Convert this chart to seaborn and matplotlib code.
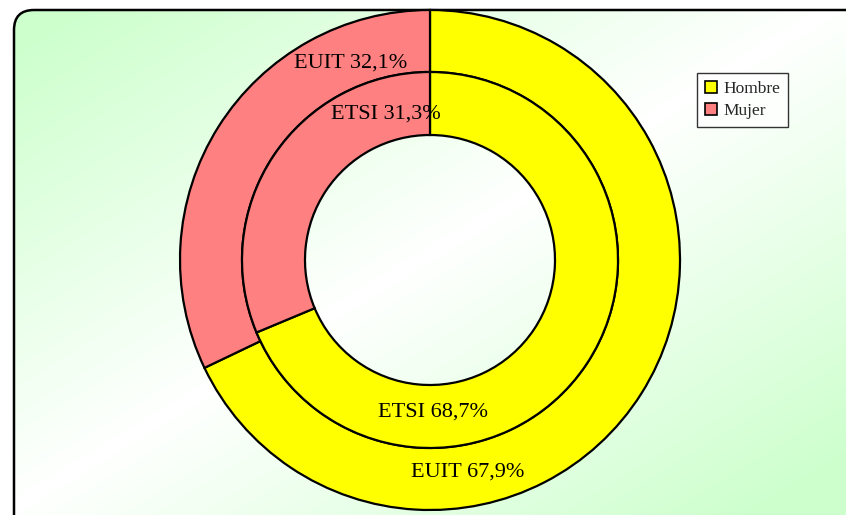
import numpy as np
import matplotlib
matplotlib.use("Agg")
from matplotlib import pyplot as plt
from matplotlib.patches import FancyBboxPatch, Patch
import seaborn as sns

categories = ["Hombre", "Mujer"]
euit = [67.9, 32.1]
etsi = [68.7, 31.3]
colors = ["#FFFF00", "#FF8080"]

sns.set_theme(style="white")
plt.rcParams['font.family'] = ['Liberation Serif', 'DejaVu Serif']

W, H = 846, 515
fig = plt.figure(figsize=(W / 100, H / 100), dpi=100)
fig.patch.set_facecolor("white")

# background panel with diagonal green-white-green gradient
bg = fig.add_axes([0, 0, 1, 1])
bg.set_xlim(0, W)
bg.set_ylim(H, 0)
bg.axis("off")
yy, xx = np.mgrid[0:H, 0:W]
t = (xx / W + yy / H) / 2.0
w = np.clip(1 - np.abs(t - 0.5) * 2.2, 0, 1)
green = np.array([0.80, 1.0, 0.80])
img = green[None, None, :] * (1 - w[..., None]) + np.ones(3)[None, None, :] * w[..., None]
frame = FancyBboxPatch((14, 10), W + 40, H + 40,
                       boxstyle="round,pad=0,rounding_size=20",
                       facecolor="none", edgecolor="black", lw=1.8, zorder=3)
bg.add_patch(frame)
im = bg.imshow(img, extent=(0, W, H, 0), zorder=1, aspect="auto")
im.set_clip_path(frame)

# donut
cx, cy, R = 430, 260, 250
ax = fig.add_axes([(cx - R) / W, (H - cy - R) / H, 2 * R / W, 2 * R / H])
wedge = dict(edgecolor="black", linewidth=1.6)
ax.pie(euit, colors=colors, startangle=90, counterclock=False, radius=1.0,
       wedgeprops=dict(width=0.248, **wedge))
ax.pie(etsi, colors=colors, startangle=90, counterclock=False, radius=0.752,
       wedgeprops=dict(width=0.252, **wedge))
ax.set_aspect("auto")
ax.set_xlim(-1, 1)
ax.set_ylim(-1, 1)
ax.axis("off")

labels = ["EUIT 67,9%", "EUIT 32,1%", "ETSI 68,7%", "ETSI 31,3%"]
lab_r = [0.86, 0.85, 0.61, 0.61]
lab_ang = [-80, 112, -89, 107]
for s, r, a in zip(labels, lab_r, lab_ang):
    ax.text(r * np.cos(np.radians(a)), r * np.sin(np.radians(a)), s,
            ha="center", va="center", fontsize=16, color="black")

handles = [Patch(facecolor=c, edgecolor="black", lw=1.2) for c in colors]
leg = fig.legend(handles, categories, loc="upper left",
                 bbox_to_anchor=(697 / W, 1 - 73 / H), fontsize=12.5,
                 frameon=True, fancybox=False, edgecolor="black",
                 handlelength=0.7, handleheight=0.7, handletextpad=0.35,
                 borderpad=0.45, labelspacing=0.35, borderaxespad=0)
leg.get_frame().set_linewidth(1.0)

fig.savefig("out.png", dpi=100)
